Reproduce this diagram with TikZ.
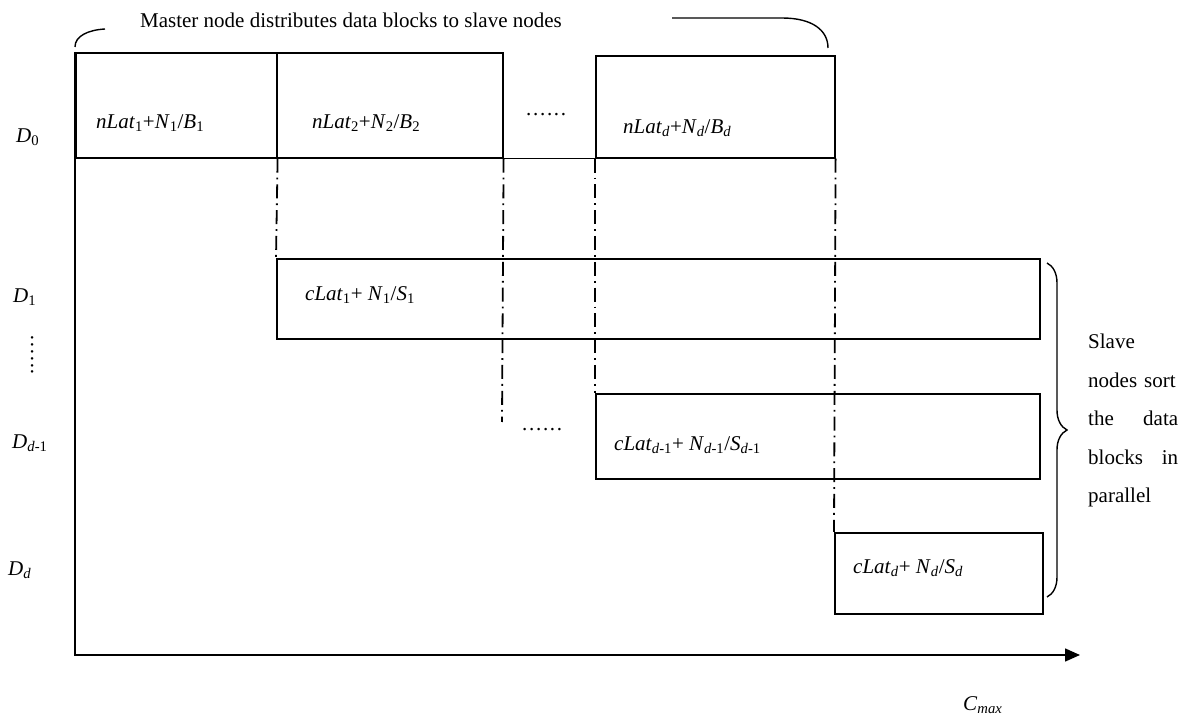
\documentclass[tikz,border=0pt]{standalone}
\usepackage{fontspec}
\setmainfont{Liberation Serif}
\usetikzlibrary{arrows.meta, decorations.pathreplacing}
\newcommand{\iv}[1]{\textit{#1}}
\newcommand{\sbs}[1]{\textsubscript{#1}}
\newcommand{\dts}{.\kern1.7pt.\kern1.7pt.\kern1.7pt.\kern1.7pt.\kern1.7pt.}
\tikzset{
    blk/.style ={rectangle, draw, line width=1.6pt, anchor=north west, inner sep=0pt},
    lbl/.style ={anchor=west, inner sep=0pt},
    guide/.style ={line width=1.8pt, dash pattern=on 14pt off 5pt on 1.8pt off 5pt},
    rule/.style ={line width=1.6pt}
    }

\begin{document}
\begin{tikzpicture}[
      x=1pt, y=-1pt, % one unit per pixel, y downwards
      font=\fontsize{21}{25}\selectfont
    ]
    \useasboundingbox (0,0) rectangle (1187,719);

    % master row
    \node[blk, minimum width=201, minimum height=105] (1) at (75,52) {};
    \node[blk, minimum width=226, minimum height=105] (2) at (276,52) {};
    \node[blk, minimum width=239, minimum height=102] (3) at (595,55) {};

    % slave rows
    \node[blk, minimum width=763, minimum height=80] (4) at (276,258) {};
    \node[blk, minimum width=444, minimum height=85] (5) at (595,393) {};
    \node[blk, minimum width=208, minimum height=81] (6) at (834,532) {};
    \coordinate (7) at (502,422);

    \node[lbl] at (96,123) {\iv{nLat}\sbs{1}+\iv{N}\sbs{1}/\iv{B}\sbs{1}};
    \node[lbl] at (312,123) {\iv{nLat}\sbs{2}+\iv{N}\sbs{2}/\iv{B}\sbs{2}};
    \node[lbl] at (623,128) {\iv{nLat}\sbs{\iv{d}}+\iv{N}\sbs{\iv{d}}/\iv{B}\sbs{\iv{d}}};
    \node[anchor=base west, inner sep=0pt] at (526,116) {\dts};

    \node[lbl] at (305,295) {\iv{cLat}\sbs{1}+ \iv{N}\sbs{1}/\iv{S}\sbs{1}};
    \node[lbl] at (614,445) {\iv{cLat}\sbs{\iv{d}-1}+ \iv{N}\sbs{\iv{d}-1}/\iv{S}\sbs{\iv{d}-1}};
    \node[lbl] at (853,568) {\iv{cLat}\sbs{\iv{d}}+ \iv{N}\sbs{\iv{d}}/\iv{S}\sbs{\iv{d}}};
    \node[anchor=base west, inner sep=0pt] at (522,431) {\dts};

    % row names
    \node[lbl] (d0) at (16,137) {\iv{D}\sbs{0}};
    \node[lbl] (d1) at (13,297) {\iv{D}\sbs{1}};
    \node[anchor=base, rotate=90, inner sep=0pt] at (33,355) {\dts};
    \node[lbl] (d2) at (12,443) {\iv{D}\sbs{\iv{d}-1}};
    \node[lbl] (d3) at (8,570) {\iv{D}\sbs{\iv{d}}};

    \draw[rule] (2.south east) -- (3.south west);
    \draw[guide] (1.south east) -- (4.north west);
    \draw[guide] (2.south east) -- (7);
    \draw[guide] (3.south west) -- (5.north west);
    \draw[guide] (3.south east) -- (6.north west);

    % time axis
    \coordinate (o) at (75,655);
    \coordinate (end) at (1080,655);
    \draw[rule, -{Triangle[length=15pt, width=13pt]}] (1.north west) -- (o) -- (end);
    \node[lbl] (cmax) at (963,705) {\iv{C}\sbs{\iv{max}}};

    % top caption and its bracket
    \node (top) at (351,20) {Master node distributes data blocks to slave nodes};
    \draw[line width=1.4pt] (75,47) .. controls (75,36) and (88,30) .. (105,29);
    \draw[line width=1.4pt] (672,18) -- (782,18) .. controls (812,18) and (828,30) .. (828,48);

    % right brace
    \draw[line width=1.4pt, decorate, decoration={brace, amplitude=20pt}] (1047,263) -- (1047,597);
    \node[anchor=base west, text width=90pt, align=left, inner sep=0pt,
          font=\fontsize{21}{38.5}\selectfont] (note) at (1088,349)
          {Slave\\nodes sort\\the\hfill data\\blocks\hfill in\\parallel};
\end{tikzpicture}
\end{document}
